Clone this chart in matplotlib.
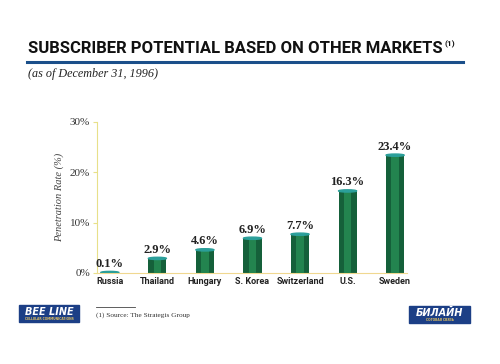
import matplotlib.pyplot as plt
from matplotlib.patches import Rectangle, Ellipse

# data
countries = ['Russia', 'Thailand', 'Hungary', 'S. Korea', 'Switzerland', 'U.S.', 'Sweden']
penetration = [0.1, 2.9, 4.6, 6.9, 7.7, 16.3, 23.4]
value_labels = ['0.1%', '2.9%', '4.6%', '6.9%', '7.7%', '16.3%', '23.4%']
y_ticks = [0, 10, 20, 30]
y_tick_labels = ['0%', '10%', '20%', '30%']

fig = plt.figure(figsize=(5, 3.64), dpi=100)
fig.patch.set_facecolor('white')

ax = fig.add_axes([0.194, 0.25, 0.62, 0.415])
x = list(range(len(countries)))

# cylinder-looking bars: dark body, lighter middle stripe, teal cap
ax.bar(x, penetration, width=0.38, color='#15603a', zorder=2)
ax.bar(x, penetration, width=0.16, color='#23844f', zorder=3)
for xi, v in zip(x, penetration):
    ax.add_patch(Ellipse((xi, v), 0.38, 0.45, color='#2b9f9a', zorder=4))
    ax.text(xi, v + 0.5, value_labels[xi], ha='center', va='bottom',
            fontsize=9, fontweight='bold', family='Liberation Serif', color='#222222')

ax.set_xlim(-0.27, 6.25)
ax.set_ylim(0, 30)
ax.set_yticks(y_ticks)
ax.set_yticklabels(y_tick_labels, family='Liberation Serif', fontsize=8, color='#333333')
ax.set_xticks(x)
ax.set_xticklabels(countries, fontsize=6.5, fontweight='bold',
                   family='Roboto', color='#222222')
ax.tick_params(axis='x', length=0, pad=3)
ax.tick_params(axis='y', length=3, color='#e8e08a', pad=2)
for side in ['top', 'right']:
    ax.spines[side].set_visible(False)
ax.spines['left'].set_color('#e8e08a')
ax.spines['bottom'].set_color('#f0d890')
ax.set_ylabel('Penetration Rate (%)', family='Liberation Serif', style='italic',
              fontsize=7.5, color='#444444', labelpad=4)

# header, shrunk to the width of the original condensed title
title = fig.text(0.056, 0.847, 'SUBSCRIBER POTENTIAL BASED ON OTHER MARKETS',
                 fontsize=14, fontweight='bold', family='Roboto',
                 color='#111111', va='bottom')
r = fig.canvas.get_renderer()
w = title.get_window_extent(r).width
title.set_fontsize(14 * 415 / w)
right = title.get_window_extent(r).x1 / fig.bbox.width
fig.text(right + 0.003, 0.868, '(1)', fontsize=6, fontweight='bold',
         family='Roboto', color='#111111', va='bottom')
fig.add_artist(plt.Line2D([0.054, 0.925], [0.829, 0.829], color='#1b4f8a', lw=2.2))
fig.text(0.056, 0.797, '(as of December 31, 1996)', fontsize=8.7, style='italic',
         family='Liberation Serif', color='#222222', va='center')

# footnote
fig.add_artist(plt.Line2D([0.192, 0.27], [0.157, 0.157], color='#444444', lw=0.6))
fig.text(0.192, 0.133, '(1) Source: The Strategis Group', fontsize=5.2,
         family='Liberation Serif', color='#333333', va='center')

# logos
fig.add_artist(Rectangle((0.038, 0.115), 0.12, 0.046, color='#1c3f86', transform=fig.transFigure))
fig.text(0.098, 0.143, 'BEE LINE', fontsize=7, fontweight='bold', style='italic',
         color='white', ha='center', va='center')
fig.text(0.098, 0.123, 'CELLULAR COMMUNICATIONS', fontsize=2.2, fontweight='bold',
         color='#e0c060', ha='center', va='center')
fig.add_artist(Rectangle((0.818, 0.112), 0.122, 0.046, color='#1c3f86', transform=fig.transFigure))
fig.text(0.879, 0.14, 'БИЛАЙН', fontsize=7, fontweight='bold', style='italic',
         color='white', ha='center', va='center')
fig.text(0.879, 0.12, 'СОТОВАЯ СВЯЗЬ', fontsize=2.2, fontweight='bold',
         color='#e0c060', ha='center', va='center')

fig.savefig('out.png', dpi=100)
